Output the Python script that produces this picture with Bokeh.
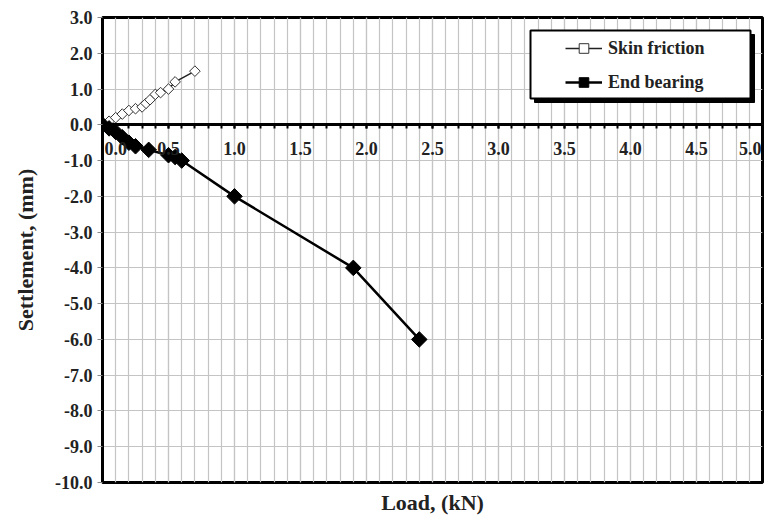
import numpy as np
from bokeh.plotting import figure
from bokeh.models import (SingleIntervalTicker, PrintfTickFormatter, Legend, LegendItem,
                          BoxAnnotation, Title, Range1d, Label)
from bokeh.embed import file_html
from bokeh.resources import INLINE

# ---- data ----
sf_load = [0, 0.05, 0.1, 0.15, 0.2, 0.25, 0.3, 0.33, 0.36, 0.4, 0.44, 0.5, 0.55, 0.7]
sf_settle = [0, 0.1, 0.2, 0.3, 0.4, 0.45, 0.5, 0.6, 0.7, 0.85, 0.9, 1.0, 1.2, 1.5]

eb_load = [0, 0.05, 0.1, 0.15, 0.2, 0.25, 0.35, 0.5, 0.55, 0.6, 1.0, 1.9, 2.4]
eb_settle = [0, -0.1, -0.2, -0.35, -0.5, -0.6, -0.7, -0.85, -0.9, -1.0, -2.0, -4.0, -6.0]

x_tick_values = [0.0, 0.5, 1.0, 1.5, 2.0, 2.5, 3.0, 3.5, 4.0, 4.5, 5.0]
x_tick_labels = ["0.0", "0.5", "1.0", "1.5", "2.0", "2.5", "3.0", "3.5", "4.0", "4.5", "5.0"]

series_names = ["Skin friction", "End bearing"]
x_title = "Load, (kN)"
y_title = "Settlement, (mm)"

FONT = "Liberation Serif"
TXT = "#222222"

p = figure(width=777, height=520, output_backend="svg", toolbar_location=None,
           x_range=Range1d(0, 5), y_range=Range1d(-10, 3),
           min_border_left=102, min_border_right=15, min_border_top=17, min_border_bottom=38,
           background_fill_color="white", border_fill_color="white")

p.outline_line_color = "black"
p.outline_line_width = 3

# x axis drawn at y = 0 (its labels are added as Label annotations below)
xa = p.xaxis[0]
xa.ticker = SingleIntervalTicker(interval=0.5, num_minor_ticks=5)
xa.fixed_location = 0
xa.axis_line_width = 3
xa.axis_line_color = "black"
xa.major_tick_in = 0
xa.major_tick_out = 4
xa.minor_tick_in = 0
xa.minor_tick_out = 4
xa.major_tick_line_width = 2
xa.minor_tick_line_width = 2
xa.major_label_text_font_size = "0px"
xa.major_label_text_alpha = 0

ya = p.yaxis[0]
ya.ticker = SingleIntervalTicker(interval=1, num_minor_ticks=0)
ya.formatter = PrintfTickFormatter(format="%.1f")
ya.axis_line_width = 3
ya.axis_line_color = "black"
ya.major_tick_in = 0
ya.major_tick_out = 5
ya.major_tick_line_color = "#888888"
ya.minor_tick_line_color = None
ya.major_label_text_font = FONT
ya.major_label_text_font_style = "bold"
ya.major_label_text_font_size = "18px"
ya.major_label_text_color = TXT
ya.major_label_standoff = 5
ya.axis_label = y_title
ya.axis_label_text_font = FONT
ya.axis_label_text_font_style = "bold"
ya.axis_label_text_font_size = "22px"
ya.axis_label_text_color = TXT
ya.axis_label_standoff = 14

p.xgrid.grid_line_color = "#c4c4c4"
p.xgrid.minor_grid_line_color = "#c4c4c4"
p.xgrid.grid_line_width = 1.2
p.xgrid.minor_grid_line_width = 1.2
p.ygrid.grid_line_color = "#c4c4c4"
p.ygrid.grid_line_width = 1.2

p.add_layout(Title(text=x_title, align="center", text_font=FONT, text_font_style="bold",
                   text_font_size="22px", text_color=TXT), "below")

# series
l1 = p.line(sf_load, sf_settle, line_color="#222222", line_width=1.5)
s1 = p.scatter(sf_load, sf_settle, marker="square", angle=np.pi / 4, size=7.5,
               fill_color="white", line_color="#333333", line_width=1)
l2 = p.line(eb_load, eb_settle, line_color="black", line_width=2.5)
s2 = p.scatter(eb_load, eb_settle, marker="square", angle=np.pi / 4, size=11,
               fill_color="black", line_color="black")

# x tick labels along the y = 0 axis (end labels aligned inward so they stay inside the frame)
n_ticks = len(x_tick_values)
for i, (xv, txt) in enumerate(zip(x_tick_values, x_tick_labels)):
    align = "left" if i == 0 else ("right" if i == n_ticks - 1 else "center")
    p.add_layout(Label(x=xv, y=0, text=txt, y_offset=-17, level="overlay",
                       x_offset=(2 if i == 0 else (-1 if i == n_ticks - 1 else 0)),
                       text_align=align, text_baseline="top", text_font=FONT,
                       text_font_style="bold", text_font_size="18px", text_color=TXT))

# legend box with shadow
shadow = BoxAnnotation(left=534, right=754, top=34, bottom=102,
                       left_units="canvas", right_units="canvas", top_units="canvas", bottom_units="canvas",
                       fill_color="black", fill_alpha=1, line_color="black", line_alpha=1, level="annotation")
box = BoxAnnotation(left=530, right=750, top=30, bottom=98,
                    left_units="canvas", right_units="canvas", top_units="canvas", bottom_units="canvas",
                    fill_color="white", fill_alpha=1, line_color="black", line_width=2, line_alpha=1,
                    level="annotation")
p.add_layout(shadow)
p.add_layout(box)

legend = Legend(items=[LegendItem(label=series_names[0], renderers=[l1, s1]),
                       LegendItem(label=series_names[1], renderers=[l2, s2])],
                location=(458, 383), padding=5, spacing=10, glyph_width=37, glyph_height=24,
                label_height=24, label_standoff=6, label_width=110,
                label_text_font=FONT, label_text_font_style="bold", label_text_font_size="18px",
                label_text_color=TXT,
                border_line_alpha=0, background_fill_alpha=0)
p.add_layout(legend)

open("out.html", "w").write(file_html(p, INLINE))
